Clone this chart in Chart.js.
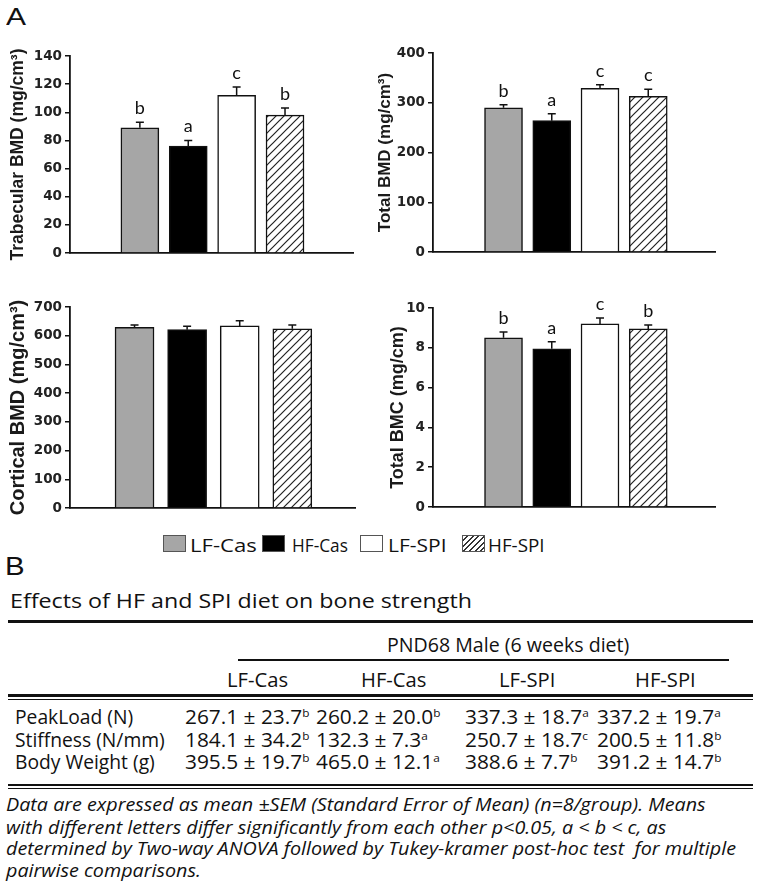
<!DOCTYPE html>
<html lang="en">
<head>
<meta charset="UTF-8">
<title>Bone density and bone strength</title>
<script src="https://cdn.jsdelivr.net/npm/chart.js"></script>
<style>
  html, body { margin: 0; padding: 0; background: #fff; overflow: hidden; }
  #page { position: relative; width: 762px; height: 889px; overflow: hidden; color: #111; }
  #page canvas { position: absolute; }
  .txt { position: absolute; white-space: pre; line-height: 1; transform-origin: 0 50%; }
  .txt sup { font-size: 11px; line-height: 0; vertical-align: 7px; }
  .rule { position: absolute; background: #111; }
  .sw { position: absolute; width: 23px; height: 17px; border: 1.5px solid #555; box-sizing: border-box; }
</style>
</head>
<body>
<div id="page">
  <canvas id="trab" width="375" height="225" style="left:0;top:40px"></canvas>
  <canvas id="totbmd" width="390" height="225" style="left:372px;top:40px"></canvas>
  <canvas id="cort" width="375" height="225" style="left:0;top:295px"></canvas>
  <canvas id="bmc" width="390" height="225" style="left:372px;top:295px"></canvas>
</div>

<script>
// groups
const groups = ['LF-Cas', 'HF-Cas', 'LF-SPI', 'HF-SPI'];

// panel A values (mean, SEM, significance letter)
const trabMean = [89, 76, 112, 98];
const trabSem = [4, 4, 6, 5];
const trabSig = ['b', 'a', 'c', 'b'];
const trabTicks = [0, 20, 40, 60, 80, 100, 120, 140];

const totBmdMean = [290, 264, 329, 313];
const totBmdSem = [6, 14, 7, 14];
const totBmdSig = ['b', 'a', 'c', 'c'];
const totBmdTicks = [0, 100, 200, 300, 400];

const cortMean = [629, 621, 634, 624];
const cortSem = [8, 12, 18, 13];
const cortSig = ['', '', '', ''];
const cortTicks = [0, 100, 200, 300, 400, 500, 600, 700];

const bmcMean = [8.5, 7.95, 9.2, 8.95];
const bmcSem = [0.3, 0.35, 0.3, 0.2];
const bmcSig = ['b', 'a', 'c', 'b'];
const bmcTicks = [0, 2, 4, 6, 8, 10];

// panel B table
const strengthRows = ['PeakLoad (N)', 'Stiffness (N/mm)', 'Body Weight (g)'];
const peakMean = [267.1, 260.2, 337.3, 337.2];
const peakSem = [23.7, 20.0, 18.7, 19.7];
const peakSig = ['b', 'b', 'a', 'a'];
const stiffMean = [184.1, 132.3, 250.7, 200.5];
const stiffSem = [34.2, 7.3, 18.7, 11.8];
const stiffSig = ['b', 'a', 'c', 'b'];
const weightMean = [395.5, 465.0, 388.6, 391.2];
const weightSem = [19.7, 12.1, 7.7, 14.7];
const weightSig = ['b', 'a', 'b', 'b'];

const footnote = [
  'Data are expressed as mean \u00B1SEM (Standard Error of Mean) (n=8/group). Means',
  'with different letters differ significantly from each other p<0.05, a < b < c, as',
  'determined by Two-way ANOVA followed by Tukey-kramer post-hoc test  for multiple',
  'pairwise comparisons.'
];

const page = document.getElementById('page');

function makeHatch() {
  const c = document.createElement('canvas');
  c.width = 8; c.height = 8;
  const g = c.getContext('2d');
  g.fillStyle = '#fff';
  g.fillRect(0, 0, 8, 8);
  g.strokeStyle = '#222';
  g.lineWidth = 1.2;
  g.beginPath();
  g.moveTo(0, 8); g.lineTo(8, 0);
  g.moveTo(-2, 2); g.lineTo(2, -2);
  g.moveTo(6, 10); g.lineTo(10, 6);
  g.stroke();
  return g.createPattern(c, 'repeat');
}
const hatch = makeHatch();
const fills = ['#a6a6a6', '#000000', '#ffffff', hatch];

// upper SEM whiskers and letters over the bars
function errorBars(sem, sig) {
  return {
    id: 'errorBars',
    afterDatasetsDraw(chart) {
      const ctx = chart.ctx;
      const y = chart.scales.y;
      const ds = chart.data.datasets[0];
      chart.getDatasetMeta(0).data.forEach((bar, i) => {
        const top = y.getPixelForValue(ds.data[i].y + sem[i]);
        ctx.save();
        ctx.strokeStyle = '#111';
        ctx.lineWidth = 1.5;
        ctx.beginPath();
        ctx.moveTo(bar.x, bar.y);
        ctx.lineTo(bar.x, top);
        ctx.moveTo(bar.x - 4, top);
        ctx.lineTo(bar.x + 4, top);
        ctx.stroke();
        if (sig[i]) {
          ctx.fillStyle = '#111';
          ctx.font = '18px Lato';
          ctx.textAlign = 'center';
          ctx.textBaseline = 'alphabetic';
          ctx.fillText(sig[i], bar.x, top - 8);
        }
        ctx.restore();
      });
    }
  };
}

function barChart(id, c) {
  new Chart(document.getElementById(id), {
    type: 'bar',
    data: {
      datasets: [{
        data: c.mean.map((v, i) => ({ x: i + 1, y: v })),
        backgroundColor: fills,
        borderColor: '#111',
        borderWidth: 1.5,
        borderSkipped: 'start',
        barThickness: c.barW
      }]
    },
    options: {
      responsive: false,
      animation: false,
      devicePixelRatio: 1,
      layout: { padding: c.pad },
      plugins: { legend: { display: false }, tooltip: { enabled: false } },
      scales: {
        x: {
          type: 'linear', min: c.xr[0], max: c.xr[1],
          ticks: { display: false },
          grid: { display: false },
          border: { display: true, color: '#111', width: 1.8 },
          afterFit: s => { s.height = 0; }
        },
        y: {
          min: c.ticks[0], max: c.ticks[c.ticks.length - 1],
          afterBuildTicks: s => { s.ticks = c.ticks.map(v => ({ value: v })); },
          ticks: { color: '#222', padding: 3, font: { family: 'DejaVu Sans', weight: 'bold', size: 13.5 } },
          grid: { drawOnChartArea: false, drawTicks: true, tickLength: 5, color: '#111', lineWidth: 1.5 },
          border: { display: true, color: '#111', width: 1.8 },
          title: {
            display: true, text: c.title, color: '#1a1a1a', padding: 0,
            font: { family: 'Liberation Sans', weight: 'bold', size: c.titleSize }
          },
          afterFit: s => { s.width = c.axisW; }
        }
      }
    },
    plugins: [errorBars(c.sem, c.sig)]
  });
}

barChart('trab', {
  mean: trabMean, sem: trabSem, sig: trabSig, ticks: trabTicks,
  title: 'Trabecular BMD (mg/cm\u00B3)', titleSize: 17.5,
  pad: { left: 8, top: 16, right: 22, bottom: 12 }, axisW: 62,
  xr: [0.287, 4.674], barW: 38
});
barChart('totbmd', {
  mean: totBmdMean, sem: totBmdSem, sig: totBmdSig, ticks: totBmdTicks,
  title: 'Total BMD (mg/cm\u00B3)', titleSize: 17,
  pad: { left: 3.5, top: 13, right: 47, bottom: 13 }, axisW: 57.5,
  xr: [0.269, 4.653], barW: 38
});
barChart('cort', {
  mean: cortMean, sem: cortSem, sig: cortSig, ticks: cortTicks,
  title: 'Cortical BMD (mg/cm\u00B3)', titleSize: 20,
  pad: { left: 6.5, top: 12, right: 20, bottom: 12 }, axisW: 63.5,
  xr: [0.315, 4.65], barW: 39
});
barChart('bmc', {
  mean: bmcMean, sem: bmcSem, sig: bmcSig, ticks: bmcTicks,
  title: 'Total BMC (mg/cm)', titleSize: 18,
  pad: { left: 15.2, top: 13, right: 47, bottom: 13 }, axisW: 45.8,
  xr: [0.269, 4.653], barW: 38
});

// text helper: places text with its left edge (or centre) at x, middle at cy,
// stretched horizontally by sx (or to a given width)
function addText(str, x, cy, o) {
  const el = document.createElement('div');
  el.className = 'txt';
  el.style.font = o.font;
  el.textContent = str;
  if (o.sup) {
    const s = document.createElement('sup');
    s.textContent = o.sup;
    el.appendChild(s);
  }
  page.appendChild(el);
  const w0 = el.offsetWidth, h0 = el.offsetHeight;
  const sx = o.width ? o.width / w0 : (o.sx || 1);
  const left = o.align === 'center' ? x - w0 * sx / 2 : x;
  el.style.left = left + 'px';
  el.style.top = (cy - h0 / 2) + 'px';
  el.style.transform = 'scaleX(' + sx + ')';
  return w0;
}
function rule(x1, x2, y, h) {
  const r = document.createElement('div');
  r.className = 'rule';
  r.style.left = x1 + 'px';
  r.style.width = (x2 - x1) + 'px';
  r.style.top = y + 'px';
  r.style.height = h + 'px';
  page.appendChild(r);
}
function measure(str, font, sup) {
  const el = document.createElement('div');
  el.className = 'txt';
  el.style.font = font;
  el.style.visibility = 'hidden';
  el.textContent = str;
  if (sup) { const s = document.createElement('sup'); s.textContent = sup; el.appendChild(s); }
  page.appendChild(el);
  const w = el.offsetWidth;
  page.removeChild(el);
  return w;
}

// panel letters
addText('A', 6, 17, { font: '24px "Liberation Sans"', width: 20 });
addText('B', 5, 566, { font: '25px "Liberation Sans"', width: 20 });

// legend
const swatchX = [163, 262, 360, 462];
const legendTextX = [190, 292, 388, 488];
const legendTextW = [67, 56, 59, 57];
const swatchBg = ['#a6a6a6', '#000', '#fff', 'repeating-linear-gradient(135deg, #fff 0 2.5px, #333 2.5px 4px)'];
groups.forEach((g, i) => {
  const sw = document.createElement('div');
  sw.className = 'sw';
  sw.style.left = swatchX[i] + 'px';
  sw.style.top = '535px';
  sw.style.background = swatchBg[i];
  page.appendChild(sw);
  addText(g, legendTextX[i], 544, { font: '18.5px "Open Sans"', width: legendTextW[i] });
});

// table
const tFont = '19.5px "Open Sans"';
const tSx = 124 / measure('267.1 \u00B1 23.7', tFont, 'b');
const labelSx = 150 / measure('Stiffness (N/mm)', tFont);

addText('Effects of HF and SPI diet on bone strength', 10, 600, { font: tFont, width: 462 });
rule(8, 753, 620, 3);
addText('PND68 Male (6 weeks diet)', 508, 644, { font: tFont, width: 242, align: 'center' });
rule(238, 729, 659, 2);

const colX = [185, 316, 465, 597];
const headX = [258, 394, 527, 666];
groups.forEach((g, i) => {
  addText(g, headX[i], 679, { font: tFont, sx: labelSx * 1.05, align: 'center' });
});
rule(8, 753, 694, 2.5);
rule(8, 753, 698.5, 1);

const rowY = [716, 739, 761];
const tableData = [
  [peakMean, peakSem, peakSig],
  [stiffMean, stiffSem, stiffSig],
  [weightMean, weightSem, weightSig]
];
strengthRows.forEach((label, r) => {
  addText(label, 15, rowY[r], { font: tFont, sx: labelSx });
  const [m, s, sig] = tableData[r];
  m.forEach((v, i) => {
    addText(v.toFixed(1) + ' \u00B1 ' + s[i].toFixed(1), colX[i], rowY[r], { font: tFont, sx: tSx, sup: sig[i] });
  });
});
rule(8, 753, 784, 2);
rule(8, 753, 788, 1);

const fFont = 'italic 19px "Open Sans"';
const fSx = 700 / measure(footnote[0], fFont);
const footY = [804, 827, 848, 870];
footnote.forEach((line, i) => addText(line, 6, footY[i], { font: fFont, sx: fSx }));
</script>
</body>
</html>
